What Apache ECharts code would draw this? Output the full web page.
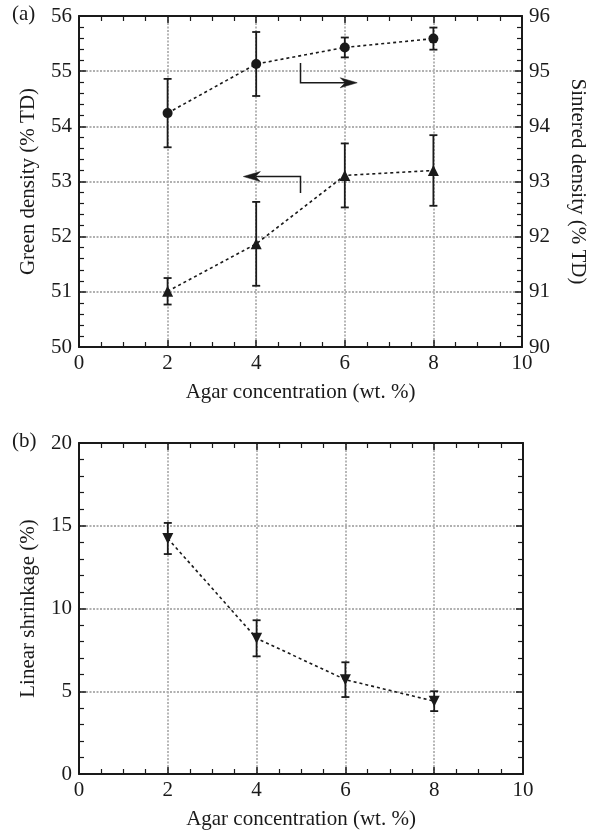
<!DOCTYPE html>
<html>
<head>
<meta charset="utf-8">
<script src="https://cdn.jsdelivr.net/npm/echarts@6/dist/echarts.min.js"></script>
<style>
  html, body { margin: 0; padding: 0; background: #fff; }
  #chart { width: 597px; height: 833px; }
</style>
</head>
<body>
<div id="chart"></div>
<script>
// Agar concentration (wt. %)
const agar = [2, 4, 6, 8];

// (a) green density (% TD, left axis) and sintered density (% TD, right axis)
const greenDensity = [51.01, 51.87, 53.11, 53.2];
const greenErr = [0.24, 0.76, 0.58, 0.64];
const sinteredDensity = [94.24, 95.13, 95.43, 95.59];
const sinteredErr = [0.62, 0.58, 0.18, 0.2];

// (b) linear shrinkage (%)
const shrinkage = [14.23, 8.2, 5.7, 4.4];
const shrinkageErr = [0.94, 1.09, 1.05, 0.6];

// Axis ranges / ticks
const xTicks = { min: 0, max: 10, interval: 2 };
const greenTicks = { min: 50, max: 56, interval: 1 };
const sinteredTicks = { min: 90, max: 96, interval: 1 };
const shrinkTicks = { min: 0, max: 20, interval: 5 };

// Arrow call-outs in data units: [x, y] polylines, last point is the tip
const arrowToSintered = [[5, 95.15], [5, 94.79], [6.28, 94.79]];
const arrowToGreen = [[5, 52.79], [5, 53.09], [3.71, 53.09]];

const FONT = 'Liberation Serif';
const FS = 21;
const INK = '#1a1a1a';

function pts(xs, ys) { return xs.map((x, i) => [x, ys[i]]); }
function bars(xs, ys, es) { return xs.map((x, i) => [x, ys[i] - es[i], ys[i] + es[i]]); }

const gridLine = { show: true, lineStyle: { color: '#b0b0b0', width: 1.8, type: [2, 1.5] } };
const noGrid = { show: false };

function valueAxis(ticks, opts) {
  return Object.assign({
    type: 'value',
    min: ticks.min, max: ticks.max, interval: ticks.interval,
    axisLine: { show: true, onZero: false, lineStyle: { color: INK, width: 2 } },
    axisTick: { show: true, inside: true, length: 7, lineStyle: { color: INK, width: 1.5 } },
    minorTick: { show: true, splitNumber: 5, length: 5, lineStyle: { color: INK, width: 1.2 } },
    axisLabel: { show: true, color: INK, fontFamily: FONT, fontSize: FS, margin: 7 },
    splitLine: noGrid,
    nameTextStyle: { color: INK, fontFamily: FONT, fontSize: FS }
  }, opts);
}

function errorBarSeries(data, xi, yi) {
  return {
    type: 'custom',
    xAxisIndex: xi, yAxisIndex: yi,
    encode: { x: 0, y: [1, 2] },
    z: 3,
    silent: true,
    renderItem: function (params, api) {
      const x = api.value(0);
      const lo = api.coord([x, api.value(1)]);
      const hi = api.coord([x, api.value(2)]);
      const cap = 4;
      const st = { stroke: INK, lineWidth: 1.8 };
      return {
        type: 'group',
        children: [
          { type: 'line', shape: { x1: hi[0], y1: hi[1], x2: lo[0], y2: lo[1] }, style: st },
          { type: 'line', shape: { x1: hi[0] - cap, y1: hi[1], x2: hi[0] + cap, y2: hi[1] }, style: st },
          { type: 'line', shape: { x1: lo[0] - cap, y1: lo[1], x2: lo[0] + cap, y2: lo[1] }, style: st }
        ]
      };
    },
    data: data
  };
}

function arrowSeries(poly, xi, yi) {
  return {
    type: 'custom',
    xAxisIndex: xi, yAxisIndex: yi,
    silent: true,
    z: 4,
    renderItem: function (params, api) {
      if (params.dataIndex !== 0) return;
      const p = poly.map(d => api.coord(d));
      const tip = p[p.length - 1];
      const prev = p[p.length - 2];
      const ang = Math.atan2(tip[1] - prev[1], tip[0] - prev[0]);
      const L = 17, W = 5, N = 12;
      const rot = (dx, dy) => [tip[0] + dx * Math.cos(ang) - dy * Math.sin(ang),
                               tip[1] + dx * Math.sin(ang) + dy * Math.cos(ang)];
      const head = [rot(0, 0), rot(-L, -W), rot(-N, 0), rot(-L, W)];
      const shaft = p.slice(0, -1).concat([rot(-N, 0)]);
      return {
        type: 'group',
        children: [
          { type: 'polyline', shape: { points: shaft }, style: { stroke: INK, lineWidth: 1.5, fill: null } },
          { type: 'polygon', shape: { points: head }, style: { fill: INK, stroke: INK, lineWidth: 0.5 } }
        ]
      };
    },
    data: [poly[0]]
  };
}

const dotted = { color: INK, width: 1.6, type: [3, 3] };
const xMinor = { show: true, splitNumber: 4, length: 5, lineStyle: { color: INK, width: 1.2 } };
const xLabel = { show: true, color: INK, fontFamily: FONT, fontSize: FS, margin: 6 };

const option = {
  animation: false,
  backgroundColor: '#ffffff',
  grid: [
    { left: 79, top: 16, width: 443, height: 331 },
    { left: 79, top: 443, width: 444, height: 331 }
  ],
  xAxis: [
    valueAxis(xTicks, { gridIndex: 0, position: 'bottom', splitLine: gridLine, minorTick: xMinor,
      axisLabel: xLabel, name: 'Agar concentration (wt. %)', nameLocation: 'middle', nameGap: 35 }),
    valueAxis(xTicks, { gridIndex: 0, position: 'top', axisLabel: { show: false }, minorTick: xMinor }),
    valueAxis(xTicks, { gridIndex: 1, position: 'bottom', splitLine: gridLine, minorTick: xMinor,
      axisLabel: xLabel, name: 'Agar concentration (wt. %)', nameLocation: 'middle', nameGap: 35 }),
    valueAxis(xTicks, { gridIndex: 1, position: 'top', axisLabel: { show: false }, minorTick: xMinor })
  ],
  yAxis: [
    valueAxis(greenTicks, { gridIndex: 0, position: 'left', splitLine: gridLine,
      name: 'Green density (% TD)', nameLocation: 'middle', nameRotate: 90, nameGap: 40 }),
    valueAxis(sinteredTicks, { gridIndex: 0, position: 'right',
      name: 'Sintered density (% TD)', nameLocation: 'middle', nameRotate: -90, nameGap: 45 }),
    valueAxis(shrinkTicks, { gridIndex: 1, position: 'left', splitLine: gridLine,
      name: 'Linear shrinkage (%)', nameLocation: 'middle', nameRotate: 90, nameGap: 40 }),
    valueAxis(shrinkTicks, { gridIndex: 1, position: 'right', axisLabel: { show: false } })
  ],
  graphic: [
    { type: 'text', left: 12, top: 4, style: { text: '(a)', font: FS + 'px "Liberation Serif"', fill: INK } },
    { type: 'text', left: 12, top: 431, style: { text: '(b)', font: FS + 'px "Liberation Serif"', fill: INK } }
  ],
  series: [
    errorBarSeries(bars(agar, sinteredDensity, sinteredErr), 0, 1),
    errorBarSeries(bars(agar, greenDensity, greenErr), 0, 0),
    errorBarSeries(bars(agar, shrinkage, shrinkageErr), 2, 2),
    {
      type: 'line', xAxisIndex: 0, yAxisIndex: 1, data: pts(agar, sinteredDensity),
      symbol: 'circle', symbolSize: 10, showAllSymbol: true, z: 5,
      lineStyle: dotted, itemStyle: { color: INK }
    },
    {
      type: 'line', xAxisIndex: 0, yAxisIndex: 0, data: pts(agar, greenDensity),
      symbol: 'triangle', symbolSize: 11, showAllSymbol: true, z: 5,
      lineStyle: dotted, itemStyle: { color: INK }
    },
    {
      type: 'line', xAxisIndex: 2, yAxisIndex: 2, data: pts(agar, shrinkage),
      symbol: 'triangle', symbolRotate: 180, symbolSize: 11, showAllSymbol: true, z: 5,
      lineStyle: dotted, itemStyle: { color: INK }
    },
    arrowSeries(arrowToSintered, 0, 1),
    arrowSeries(arrowToGreen, 0, 0)
  ]
};

const chart = echarts.init(document.getElementById('chart'), null, { renderer: 'canvas' });
chart.setOption(option);
</script>
</body>
</html>
